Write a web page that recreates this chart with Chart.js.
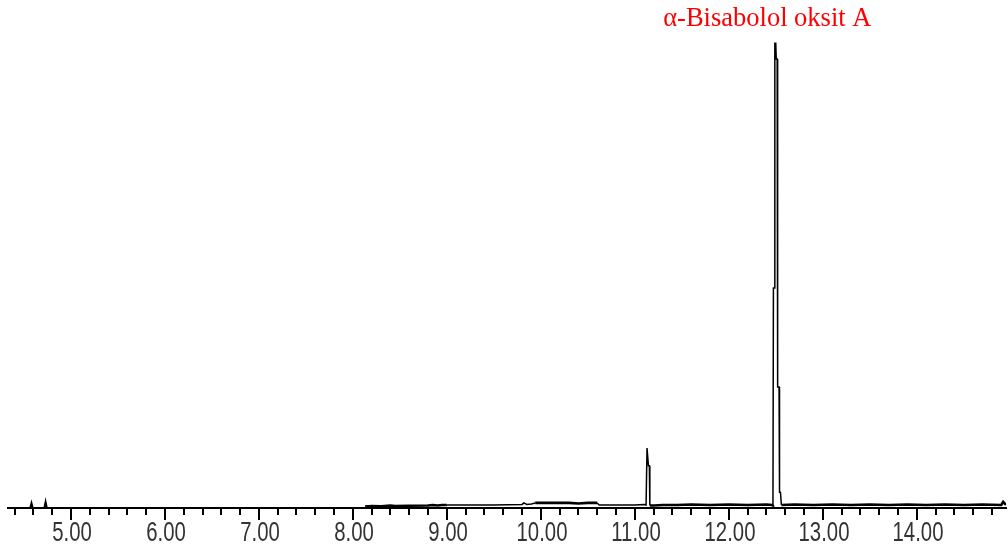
<!DOCTYPE html>
<html>
<head>
<meta charset="utf-8">
<script src="https://cdn.jsdelivr.net/npm/chart.js@4.4.0/dist/chart.umd.min.js"></script>
<style>
  html, body { margin: 0; padding: 0; background: #fff; }
  #wrap { width: 1008px; height: 549px; }
</style>
</head>
<body>
<div id="wrap"><canvas id="chrom"></canvas></div>
<script>
// retention time (min) and abundance (% of axis height), null = gap
const times = [
  4.57, 4.58, 4.59, null,
  4.72, 4.73, 4.74, null,
  8.13, 8.20, 8.30, 8.40, 8.45, 8.60, 8.80, 8.85, 8.90, 8.95,
  9.00, 9.50, 9.80, 9.82, 9.85, 9.90, 9.94, 10.30, 10.40, 10.50, 10.60, 10.62,
  11.00, 11.10, 11.12, 11.13, 11.14, 11.145, 11.155, 11.16, 11.20, 11.30,
  11.45, 11.60, 11.80, 12.00, 12.20, 12.40, 12.46, 12.47,
  12.475, 12.485, 12.49, 12.50, 12.505, 12.515, 12.52, 12.535, 12.54, 12.55, 12.56,
  12.70, 12.90, 13.10, 13.30, 13.50, 13.70, 13.90, 14.10, 14.30, 14.50, 14.70, 14.90, 14.92, 14.95
];
const abundance = [
  0, 0.7, 0, null,
  0, 0.9, 0, null,
  0.3, 0.4, 0.35, 0.5, 0.4, 0.45, 0.5, 0.6, 0.5, 0.6,
  0.6, 0.6, 0.7, 1.0, 0.7, 0.8, 1.0, 1.0, 0.9, 1.0, 1.0, 0.6,
  0.6, 0.7, 0.6, 11.8, 11.8, 8.3, 8.3, 0.5, 0.5, 0.6,
  0.6, 0.7, 0.6, 0.7, 0.6, 0.7, 0.6, 0.5,
  43.3, 43.3, 91.5, 91.5, 88.4, 88.4, 23.8, 23.8, 3.1, 3.1, 0.6,
  0.7, 0.6, 0.7, 0.6, 0.7, 0.6, 0.7, 0.6, 0.7, 0.6, 0.7, 0.6, 1.2, 0.6
];
const majorTicks = [5, 6, 7, 8, 9, 10, 11, 12, 13, 14];
const minorTicks = [4.4, 4.6, 4.8];
const peakName = 'α-Bisabolol oksit A';
const peakTime = 12.41;

const points = times.map((t, i) => ({ x: t === null ? NaN : t, y: abundance[i] }));

const overlay = {
  id: 'overlay',
  afterDraw(chart) {
    const ctx = chart.ctx;
    const sx = chart.scales.x;
    const y0 = chart.chartArea.bottom + 1;
    ctx.save();
    ctx.strokeStyle = '#000';
    ctx.lineWidth = 2;
    sx.ticks.forEach(t => {
      const major = Math.abs(t.value - Math.round(t.value)) < 1e-6;
      const px = Math.round(sx.getPixelForValue(t.value));
      ctx.beginPath();
      ctx.moveTo(px, y0);
      ctx.lineTo(px, y0 + (major ? 11 : 6));
      ctx.stroke();
      if (major) {
        // tall narrow tick labels
        ctx.save();
        ctx.fillStyle = '#333';
        ctx.font = '21px "Liberation Sans", Arial, sans-serif';
        ctx.textAlign = 'center';
        ctx.textBaseline = 'alphabetic';
        ctx.translate(px + 1, 541);
        ctx.scale(0.97, 1.32);
        ctx.fillText(t.value.toFixed(2), 0, 0);
        ctx.restore();
      }
    });
    // peak label
    ctx.fillStyle = '#ff0000';
    ctx.font = '26.5px "Liberation Serif", "Times New Roman", serif';
    ctx.textAlign = 'center';
    ctx.textBaseline = 'alphabetic';
    ctx.fillText(peakName, sx.getPixelForValue(peakTime), 26);
    ctx.restore();
  }
};

new Chart(document.getElementById('chrom'), {
  type: 'line',
  data: {
    datasets: [{
      data: points,
      borderColor: '#000',
      borderWidth: 1.5,
      pointRadius: 0,
      tension: 0,
      spanGaps: false,
      segment: {
        borderWidth: c => {
          const a = c.p0.parsed, b = c.p1.parsed;
          if (a.y > 2 || b.y > 2) return 1.5;
          if (a.x >= 9.0 && b.x <= 9.94) return 1.5;
          if (a.x >= 10.6 && b.x <= 11.12) return 1.5;
          return 2.6;
        }
      }
    }]
  },
  options: {
    responsive: true,
    maintainAspectRatio: false,
    animation: false,
    layout: { padding: { left: 8, right: 2, top: 0, bottom: 0 } },
    plugins: { legend: { display: false }, tooltip: { enabled: false }, title: { display: false } },
    scales: {
      x: {
        type: 'linear',
        min: 4.33,
        max: 14.95,
        grid: { display: false },
        border: { display: true, color: '#000', width: 2 },
        afterBuildTicks(scale) {
          const vals = minorTicks.slice();
          majorTicks.forEach(m => {
            vals.push(m);
            for (let k = 1; k < 5; k++) {
              const v = +(m + k * 0.2).toFixed(1);
              if (v < 14.95) vals.push(v);
            }
          });
          scale.ticks = vals.map(v => ({ value: v }));
        },
        afterFit(scale) { scale.height = 41; },
        ticks: {
          display: false,
          autoSkip: false,
          maxRotation: 0
        }
      },
      y: {
        display: false,
        min: 0,
        max: 100
      }
    }
  },
  plugins: [overlay]
});
</script>
</body>
</html>
